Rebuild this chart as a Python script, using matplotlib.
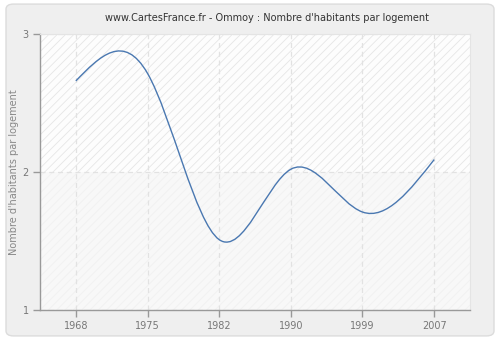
import numpy as np
import matplotlib
matplotlib.use("Agg")
import matplotlib.pyplot as plt
from matplotlib.path import Path
from matplotlib.patches import PathPatch, FancyBboxPatch, Rectangle

# Nombre d'habitants par logement, Ommoy
years = ["1968", "1975", "1982", "1990", "1999", "2007"]
values = [2.66, 2.715, 1.51, 2.02, 1.71, 2.09]

title = "www.CartesFrance.fr - Ommoy : Nombre d'habitants par logement"
ylabel = "Nombre d'habitants par logement"
yticks = [1, 2, 3]


def natural_spline_path(x, y):
    # natural cubic spline on evenly spaced x, returned as a bezier path
    n = len(y) - 1
    y = np.asarray(y, dtype=float)
    A = np.zeros((n - 1, n - 1))
    rhs = np.zeros(n - 1)
    for i in range(1, n):
        A[i - 1, i - 1] = 4.0
        if i > 1:
            A[i - 1, i - 2] = 1.0
        if i < n - 1:
            A[i - 1, i] = 1.0
        rhs[i - 1] = 6.0 * (y[i + 1] - 2 * y[i] + y[i - 1])
    M = np.zeros(n + 1)
    M[1:n] = np.linalg.solve(A, rhs)
    d = np.zeros(n + 1)
    for i in range(n):
        d[i] = (y[i + 1] - y[i]) - (2 * M[i] + M[i + 1]) / 6.0
    d[n] = (y[n] - y[n - 1]) + (M[n - 1] + 2 * M[n]) / 6.0
    verts = [(x[0], y[0])]
    codes = [Path.MOVETO]
    for i in range(n):
        verts += [(x[i] + 1 / 3, y[i] + d[i] / 3),
                  (x[i + 1] - 1 / 3, y[i + 1] - d[i + 1] / 3),
                  (x[i + 1], y[i + 1])]
        codes += [Path.CURVE4] * 3
    return Path(verts, codes)


plt.rcParams["hatch.linewidth"] = 0.6

fig = plt.figure(figsize=(5.0, 3.4), dpi=100)
fig.patch.set_facecolor("white")

# rounded frame behind everything
frame = FancyBboxPatch((0.012, 0.012), 0.976, 0.976,
                       boxstyle="round,pad=0,rounding_size=0.015",
                       transform=fig.transFigure, facecolor="#efefef",
                       edgecolor="#dcdcdc", linewidth=1.0, zorder=-10)
fig.patches.append(frame)

ax = fig.add_axes([0.08, 0.0882, 0.86, 0.8118])
ax.set_facecolor("#fbfbfb")

xpos = np.arange(len(years))
ax.set_xlim(-0.5, len(years) - 0.5)
ax.set_ylim(1, 3)

# hatched bands
ax.add_patch(Rectangle((-0.5, 2), len(years), 1, facecolor="#fdfdfd",
                       edgecolor="#e6e6e6", hatch="////", linewidth=0, zorder=0))
ax.add_patch(Rectangle((-0.5, 1), len(years), 1, facecolor="#f8f8f8",
                       edgecolor="#f1f1f1", hatch="////", linewidth=0, zorder=0))

ax.set_xticks(xpos)
ax.set_xticklabels(years)
ax.set_yticks(yticks)
ax.grid(True, color="#e2e2e2", linestyle=(0, (4, 3)), linewidth=0.9)
ax.set_axisbelow(True)

ax.add_patch(PathPatch(natural_spline_path(xpos, values), facecolor="none",
                       edgecolor="#4a78b1", linewidth=1.0, zorder=3))

for side in ["top", "right"]:
    ax.spines[side].set_color("#e4e4e4")
    ax.spines[side].set_linewidth(0.8)
for side in ["left", "bottom"]:
    ax.spines[side].set_color("#999999")
    ax.spines[side].set_linewidth(1.0)

ax.tick_params(axis="both", colors="#999999", labelcolor="#777777",
               labelsize=7, length=5, width=1, direction="out")
ax.tick_params(axis="x", pad=3)
ax.tick_params(axis="y", pad=3)

ax.set_ylabel(ylabel, color="#888888", fontsize=7)
ax.yaxis.set_label_coords(-0.048, 0.5)
fig.text(0.534, 0.947, title, ha="center", va="center", fontsize=7.0,
         color="#333333")

fig.savefig("out.png", dpi=100, facecolor=fig.get_facecolor())
